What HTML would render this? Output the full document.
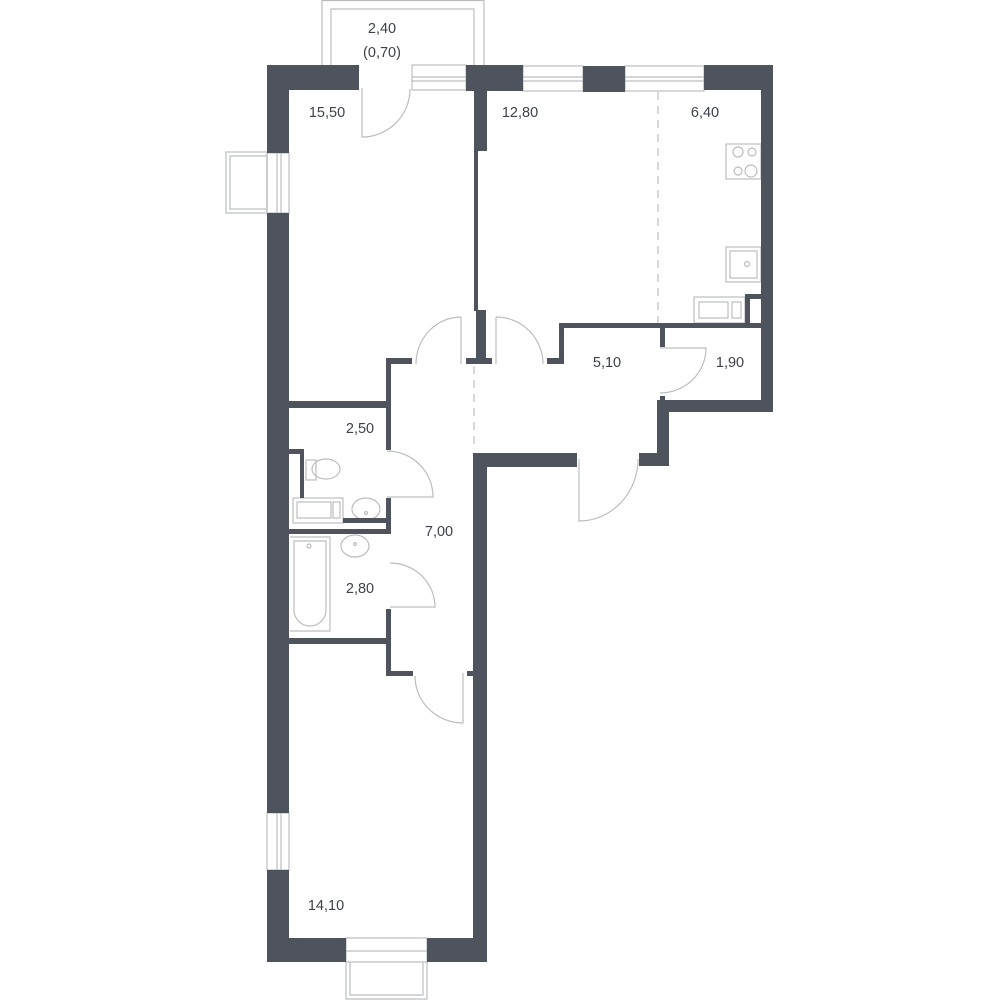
<!DOCTYPE html>
<html><head><meta charset="utf-8"><style>
html,body{margin:0;padding:0;background:#fff}
svg{display:block}
text{font-family:"Liberation Sans",sans-serif;font-size:14.5px;fill:#3e414b;text-anchor:middle;dominant-baseline:central}
</style></head><body>
<svg width="1000" height="1000" viewBox="0 0 1000 1000" xmlns="http://www.w3.org/2000/svg">
<g fill="none" stroke="#bcbdc1" stroke-width="1.2">
<!-- top balcony -->
<path d="M322 65V0.5H484V65"/><path d="M331 65V9H474V65"/>
<!-- side balcony left -->
<rect x="226" y="152" width="41" height="61"/><rect x="230" y="156" width="37" height="53"/>
<!-- bottom balcony -->
<path d="M346 962V999H427V962"/><path d="M350 962V995H423V962"/>
<!-- windows -->
<rect x="412" y="65" width="54" height="25"/><path d="M412 77H466M412 81H466"/>
<rect x="523" y="66" width="60" height="25"/><path d="M523 77H583M523 81H583"/>
<rect x="625" y="66" width="79" height="25"/><path d="M625 77H704M625 81H704"/>
<rect x="267" y="153" width="22" height="60"/><path d="M277 153V213M281 153V213"/>
<rect x="267" y="813" width="22" height="57"/><path d="M277 813V870M281 813V870"/>
<rect x="346" y="938" width="81" height="24"/><path d="M346 951H427"/>
<!-- doors -->
<path d="M362 88V137A48 48 0 0 0 410 89"/>
<path d="M461 317V364M461 317A45 47 0 0 0 416 364"/>
<path d="M496 317V364M496 317A47 47 0 0 1 543 364"/>
<path d="M387 451A46 46 0 0 1 433 497H387"/>
<path d="M390 563A45 44 0 0 1 435 607H390"/>
<path d="M463 673V723A48 47 0 0 1 415 676"/>
<path d="M579 459V521A59 62 0 0 0 638 459"/>
<path d="M660 348H706A46 45 0 0 1 660 393"/>
<!-- kitchen -->
<rect x="726" y="144" width="35" height="35"/>
<circle cx="738" cy="152" r="5"/><circle cx="752" cy="152" r="4"/><circle cx="738" cy="171" r="4"/><circle cx="751" cy="171" r="6"/>
<rect x="726" y="247" width="35" height="35"/><rect x="730" y="251" width="27" height="27"/><circle cx="747" cy="264" r="2.5"/>
<rect x="694" y="297" width="51" height="26"/><rect x="699" y="302" width="29" height="16"/><rect x="732" y="302" width="9" height="16"/>
<!-- bathroom fixtures -->
<rect x="293" y="498" width="50" height="25"/><rect x="297" y="502" width="34" height="16"/><rect x="333" y="502" width="7" height="16"/>
<ellipse cx="326" cy="469" rx="14" ry="10"/><rect x="306" y="460" width="10" height="20"/>
<ellipse cx="366" cy="509" rx="14" ry="11"/><circle cx="366" cy="513" r="1.5"/>
<ellipse cx="355" cy="546" rx="14" ry="11"/><circle cx="355" cy="544" r="1.5"/>
<path d="M290 537H330V631H290"/><path d="M294 541H326V610A16 16 0 0 1 294 610Z"/>
<circle cx="309" cy="546" r="2"/>
</g>
<!-- dashed lines -->
<g stroke="#bcbdc1" stroke-width="1.2" stroke-dasharray="8 6">
<path d="M658 92V323"/><path d="M474 366V448"/>
</g>
<g fill="#4f535d">
<!-- outer left wall -->
<rect x="267" y="65" width="22" height="88"/>
<rect x="267" y="213" width="22" height="600"/>
<rect x="267" y="870" width="22" height="92"/>
<rect x="267" y="65" width="92" height="25"/>
<rect x="267" y="938" width="79" height="24"/>
<rect x="427" y="938" width="60" height="24"/>
<!-- right lower wall -->
<rect x="473" y="453" width="14" height="509"/>
<rect x="473" y="453" width="104" height="14"/>
<!-- top walls -->
<rect x="466" y="65" width="57" height="26"/>
<rect x="583" y="66" width="42" height="26"/>
<rect x="704" y="65" width="69" height="25"/>
<rect x="761" y="65" width="12" height="347"/>
<rect x="657" y="400" width="116" height="12"/>
<rect x="657" y="400" width="12" height="66"/>
<rect x="639" y="453" width="30" height="13"/>
<!-- partitions -->
<rect x="474" y="91" width="13" height="60"/>
<rect x="474" y="151" width="4" height="160"/>
<rect x="476" y="310" width="10" height="54"/>
<rect x="466" y="358" width="26" height="6"/>
<rect x="386" y="358" width="26" height="6"/>
<rect x="386" y="358" width="5" height="92"/>
<rect x="289" y="401" width="97" height="7"/>
<rect x="386" y="498" width="5" height="36"/>
<rect x="343" y="518" width="43" height="5"/>
<rect x="289" y="529" width="97" height="5"/>
<rect x="289" y="449" width="15" height="5"/>
<rect x="300" y="449" width="4" height="49"/>
<rect x="386" y="609" width="5" height="67"/>
<rect x="289" y="638" width="97" height="6"/>
<rect x="386" y="671" width="27" height="5"/>
<rect x="467" y="671" width="6" height="5"/>
<rect x="547" y="358" width="17" height="6"/>
<rect x="559" y="323" width="5" height="41"/>
<rect x="559" y="323" width="202" height="5"/>
<rect x="660" y="328" width="5" height="19"/>
<rect x="660" y="396" width="5" height="6"/>
<rect x="745" y="294" width="16" height="5"/>
<rect x="745" y="294" width="5" height="29"/>
</g>
<text x="382" y="29">2,40</text>
<text x="382" y="53">(0,70)</text>
<text x="327" y="113">15,50</text>
<text x="520" y="113">12,80</text>
<text x="705" y="113">6,40</text>
<text x="607" y="363">5,10</text>
<text x="730" y="363">1,90</text>
<text x="360" y="429">2,50</text>
<text x="439" y="532">7,00</text>
<text x="360" y="589">2,80</text>
<text x="326" y="906">14,10</text>
</svg>
</body></html>
